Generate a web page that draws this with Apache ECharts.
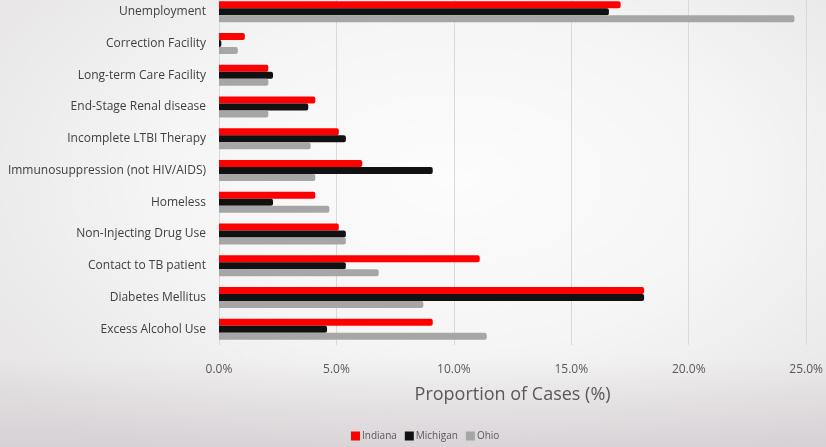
<!DOCTYPE html>
<html>
<head>
<meta charset="utf-8">
<script src="https://cdn.jsdelivr.net/npm/echarts@6/dist/echarts.min.js"></script>
<style>
html,body{margin:0;padding:0;}
body{width:826px;height:447px;overflow:hidden;position:relative;
background: radial-gradient(ellipse 70% 75% at 55% 40%, #fcfcfc 0%, #f5f5f5 50%, #e6e4e5 100%);}
#bg{position:absolute;left:0;top:0;width:826px;height:447px;
background: linear-gradient(to bottom, rgba(0,0,0,0) 0%, rgba(0,0,0,0) 80%, rgba(200,190,196,0.5) 100%);}
#chart{position:absolute;left:0;top:-4px;width:826px;height:451px;}
</style>
</head>
<body>
<div id="bg"></div>
<div id="chart"></div>
<script>
const categories = ["Unemployment","Correction Facility","Long-term Care Facility","End-Stage Renal disease","Incomplete LTBI Therapy","Immunosuppression (not HIV/AIDS)","Homeless","Non-Injecting Drug Use","Contact to TB patient","Diabetes Mellitus","Excess Alcohol Use"];
const indiana  = [17.1, 1.1, 2.1, 4.1, 5.1, 6.1, 4.1, 5.1, 11.1, 18.1, 9.1];
const michigan = [16.6, 0.1, 2.3, 3.8, 5.4, 9.1, 2.3, 5.4, 5.4, 18.1, 4.6];
const ohio     = [24.5, 0.8, 2.1, 2.1, 3.9, 4.1, 4.7, 5.4, 6.8, 8.7, 11.4];
const xTicks = [0, 5, 10, 15, 20, 25];

const chart = echarts.init(document.getElementById('chart'));
const barCommon = {type:'bar', barWidth:7, barGap:'0%', itemStyle:{borderRadius:[0,2,2,0]}};
chart.setOption({
  backgroundColor:'transparent',
  textStyle:{fontFamily:'Open Sans'},
  grid:{left:219, right:14, top:0, bottom:102},
  legend:{bottom:1, left:346, itemWidth:9, itemHeight:9, itemGap:8,
    icon:'rect', textStyle:{fontSize:10, color:'#595959', fontFamily:'Open Sans', padding:[0,0,0,-3]},
    data:['Indiana','Michigan','Ohio']},
  xAxis:{type:'value', min:xTicks[0], max:xTicks[xTicks.length-1], interval:5,
    name:'Proportion of Cases (%)', nameLocation:'middle', nameGap:41,
    nameTextStyle:{fontSize:18, color:'#595959', fontFamily:'Open Sans'},
    axisLine:{show:false}, axisTick:{show:false},
    axisLabel:{formatter:v=>v.toFixed(1)+'%', fontSize:12, color:'#595959', margin:19},
    splitLine:{show:true, lineStyle:{color:'#d9d9d9', width:1}}},
  yAxis:{type:'category', data:categories, inverse:true,
    axisLine:{show:false}, axisTick:{show:false},
    axisLabel:{fontSize:12, color:'#404040', margin:13}},
  series:[
    Object.assign({name:'Indiana', data:indiana, color:'#ff0000'}, barCommon),
    Object.assign({name:'Michigan', data:michigan, color:'#111111'}, barCommon),
    Object.assign({name:'Ohio', data:ohio, color:'#a6a6a6'}, barCommon)
  ]
});
</script>
</body>
</html>
